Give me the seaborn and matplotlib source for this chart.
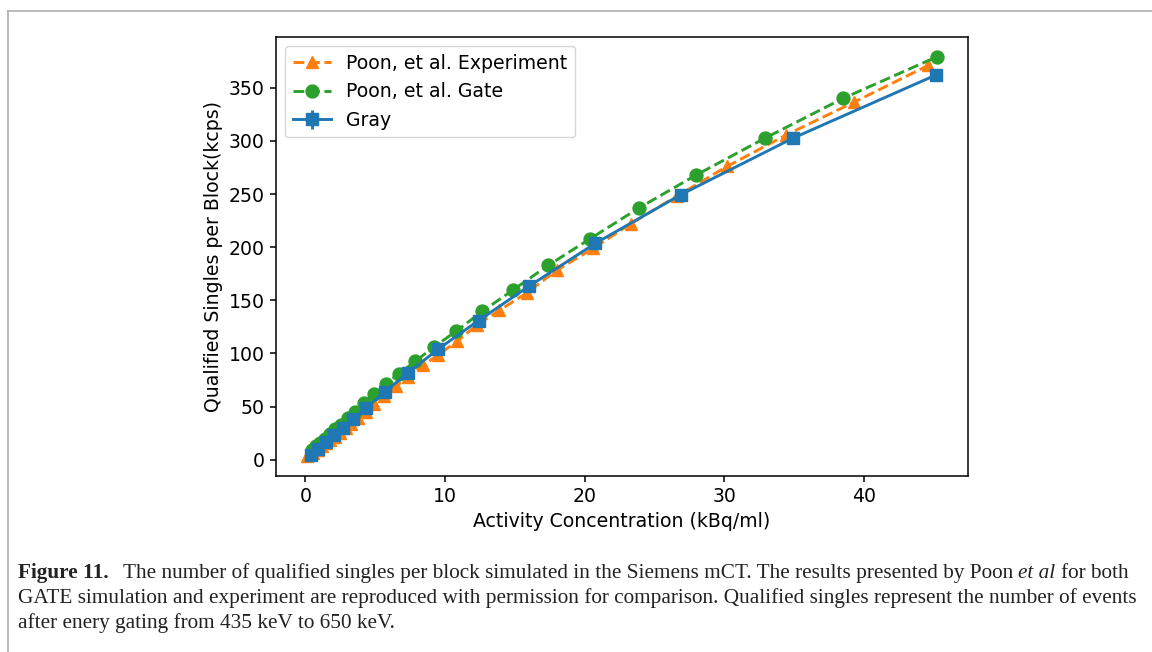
import matplotlib
matplotlib.use("Agg")
import matplotlib.pyplot as plt
import seaborn as sns
from matplotlib.lines import Line2D

# ---------------- data ----------------
gray_x = [0.4, 0.9, 1.45, 2.05, 2.7, 3.4, 4.35, 5.7, 7.38, 9.5, 12.4, 16.05, 20.75, 26.9, 34.9, 45.15]
gray_y = [4.5, 10.5, 16.5, 23.3, 30.0, 38.0, 49.0, 64.0, 82.0, 104.0, 131.0, 163.6, 203.5, 249.5, 302.5, 362.0]
gray_err = [0.5, 0.7, 0.8, 1.0, 1.1, 1.2, 1.4, 1.6, 1.8, 2.0, 2.3, 2.6, 2.9, 3.2, 3.5, 3.8]

exp_x = [0.15, 0.55, 0.9, 1.2, 1.5, 1.8, 2.1, 2.5, 2.9, 3.3, 3.8, 4.35, 4.95, 5.65, 6.5, 7.35,
         8.4, 9.5, 10.84, 12.3, 13.9, 15.85, 18.0, 20.6, 23.3, 26.6, 30.2, 34.45, 39.3, 44.6]
exp_y = [3.5, 6.5, 9.5, 12.5, 15.5, 18.5, 21.5, 25.5, 29.5, 33.5, 39.0, 45.0, 52.0, 60.0, 69.2, 78.0,
         88.7, 98.5, 111.3, 127.0, 140.6, 157.0, 178.3, 198.8, 222.0, 248.0, 276.0, 305.7, 336.5, 371.0]

gate_x = [0.45, 0.75, 1.05, 1.4, 1.75, 2.15, 2.55, 3.05, 3.55, 4.2, 4.9, 5.76, 6.7, 7.85, 9.2,
          10.8, 12.67, 14.9, 17.4, 20.4, 23.9, 28.0, 32.9, 38.5, 45.2]
gate_y = [9.0, 12.5, 16.0, 20.0, 24.0, 28.5, 33.0, 39.0, 45.0, 53.0, 62.0, 71.5, 81.0, 92.5, 106.0,
          121.0, 139.6, 160.0, 183.0, 208.0, 237.0, 268.0, 302.5, 340.0, 379.0]

series_labels = ["Gray", "Poon, et al. Experiment", "Poon, et al. Gate"]
x_label = "Activity Concentration (kBq/ml)"
y_label = "Qualified Singles per Block(kcps)"

caption_lines = [
    [("Figure 11.", "bold"), ("  ", "gap"),
     ("The number of qualified singles per block simulated in the Siemens mCT. The results presented by Poon", "normal"),
     (" ", "space"), ("et al", "italic"), (" ", "space"), ("for both", "normal")],
    [("GATE simulation and experiment are reproduced with permission for comparison. Qualified singles represent the number of events", "normal")],
    [("after enery gating from 435 keV to 650 keV.", "normal")],
]

# ---------------- style ----------------
FS = 13.6
plt.rcParams.update({
    "font.family": ["DejaVu Sans"],
    "font.size": FS,
    "axes.linewidth": 1.1,
    "xtick.major.size": 4.6,
    "ytick.major.size": 4.6,
    "xtick.major.width": 1.1,
    "ytick.major.width": 1.1,
    "xtick.labelsize": FS,
    "ytick.labelsize": FS,
    "axes.labelsize": FS,
    "legend.fontsize": FS,
})

W, H = 1152, 652
fig = plt.figure(figsize=(W / 100, H / 100), dpi=100)
fig.patch.set_facecolor("white")

L, R, T, B = 276, 968, 37, 476
ax = fig.add_axes([L / W, 1 - B / H, (R - L) / W, (B - T) / H])

pal = sns.color_palette("tab10")
c_gray, c_exp, c_gate = pal[0], pal[1], pal[2]

lw = 2.1
ms = 9.3

ax.errorbar(gray_x, gray_y, yerr=gray_err, fmt="-s", color=c_gray, ms=ms, lw=lw,
            elinewidth=lw, mew=1, label=series_labels[0], zorder=3)

sns.lineplot(x=exp_x, y=exp_y, ax=ax, color=c_exp, marker="^", markersize=ms,
             linestyle="--", linewidth=lw, markeredgecolor=c_exp, markeredgewidth=1,
             label=series_labels[1], zorder=2)
sns.lineplot(x=gate_x, y=gate_y, ax=ax, color=c_gate, marker="o", markersize=ms,
             linestyle="--", linewidth=lw, markeredgecolor=c_gate, markeredgewidth=1,
             label=series_labels[2], zorder=2)

ax.margins(0.05)
ax.set_xticks([0, 10, 20, 30, 40])
ax.set_yticks([0, 50, 100, 150, 200, 250, 300, 350])
ax.set_xlabel(x_label)
ax.set_ylabel(y_label)

handles, labels = ax.get_legend_handles_labels()
order = [labels.index(series_labels[1]), labels.index(series_labels[2]), labels.index(series_labels[0])]
ax.legend([handles[i] for i in order], [labels[i] for i in order], loc="upper left",
          fontsize=FS, frameon=True)

# ---------------- page frame ----------------
fc = "#b4b4b4"
fig.add_artist(Line2D([8 / W, 8 / W], [0, 1 - 11 / H], color=fc, lw=1.3, transform=fig.transFigure))
fig.add_artist(Line2D([8 / W, 1], [1 - 11 / H, 1 - 11 / H], color=fc, lw=1.3, transform=fig.transFigure))

# ---------------- caption ----------------
fig.canvas.draw()
renderer = fig.canvas.get_renderer()
serif = "Liberation Serif"


def measure(s, size, weight="normal", style="normal"):
    t = fig.text(0, 0, s, fontsize=size, family=serif, fontweight=weight, fontstyle=style)
    w = t.get_window_extent(renderer).width
    t.remove()
    return w


def space_w(size):
    return measure("n n", size) - measure("nn", size)


target_w = 1133 - 18
base_size = 12.0
w0 = measure(caption_lines[1][0][0], base_size)
cap_size = base_size * target_w / w0

x_start = 18
baselines = [578, 603, 628]
for runs, yb in zip(caption_lines, baselines):
    x = x_start
    for s, kind in runs:
        if kind == "gap":
            x += 2.6 * space_w(cap_size)
            continue
        if kind == "space":
            x += space_w(cap_size)
            continue
        weight = "bold" if kind == "bold" else "normal"
        style = "italic" if kind == "italic" else "normal"
        t = fig.text(x / W, 1 - yb / H, s, fontsize=cap_size, family=serif, fontweight=weight,
                     fontstyle=style, va="baseline", ha="left", color="#222222")
        x += t.get_window_extent(renderer).width

fig.savefig("out.png", dpi=100, facecolor="white")
